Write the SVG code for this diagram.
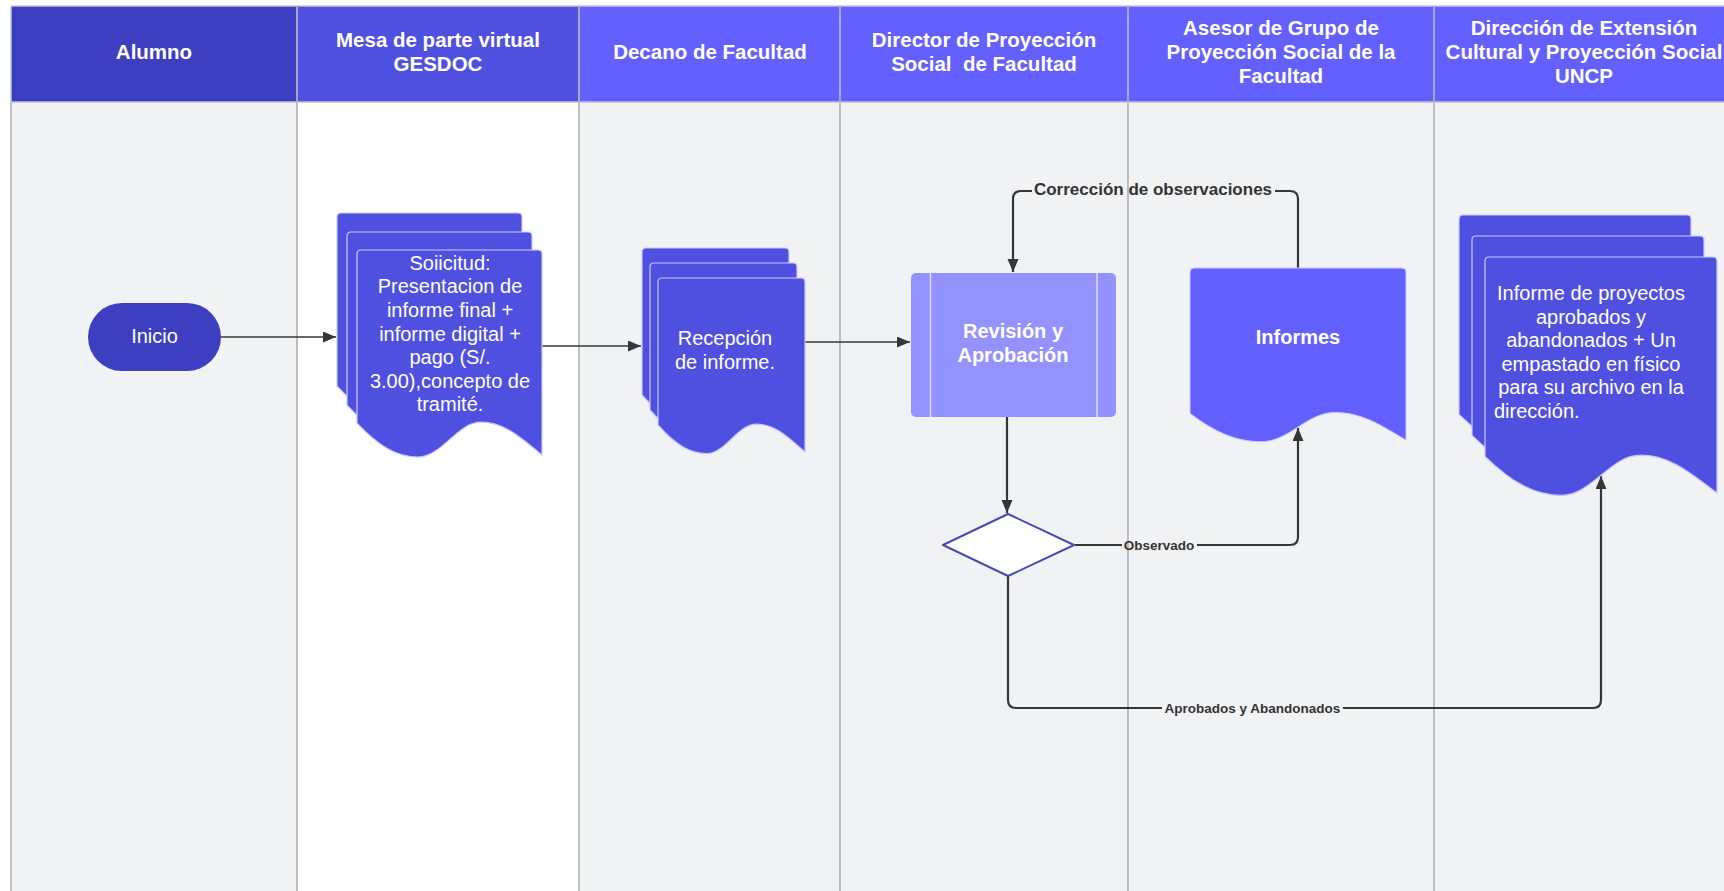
<svg xmlns="http://www.w3.org/2000/svg" xmlns:xlink="http://www.w3.org/1999/xlink" width="1724" height="891" viewBox="0 0 1724 891">
<style>
.hdr{font-family:"Liberation Sans",Arial,sans-serif;font-weight:bold;font-size:20.5px;fill:#ffffff;text-anchor:middle}
.body{font-family:"Liberation Sans",Arial,sans-serif;font-size:20px;fill:#ffffff;text-anchor:middle}
.start{text-anchor:start}
.bold{font-weight:bold}
.lbl{font-family:"Liberation Sans",Arial,sans-serif;font-weight:bold;fill:#333333;text-anchor:middle}
.lane{fill:#f1f2f4}
.sep{stroke:#b9b9bd;stroke-width:1.8}
.hsep{stroke:#a7a7c4;stroke-width:2}
.sheet{fill:#5050e0;stroke:#c9c9ff;stroke-width:1.2}
.conn{fill:none;stroke:#363636;stroke-width:2.2;stroke-linejoin:round}
.thin{stroke-width:1.7}
</style>
<defs>
<marker id="arr" markerUnits="userSpaceOnUse" markerWidth="14" markerHeight="12" refX="13" refY="5.5" orient="auto">
<path d="M0,0 L13,5.5 L0,11 z" fill="#363636"/>
</marker>
<path id="docA" d="M0,4 Q0,0 4,0 H181 Q185,0 185,4 V205 C164.7,188.6 148,172.2 124,172.2 C99.9,172.2 85.1,207 61,207 C40.7,207 22.2,196.8 0,173.2 Z"/>
<path id="docB" d="M0,4 Q0,0 4,0 H143 Q147,0 147,4 V174 C130.8,160.1 117.6,146.2 98.5,146.2 C79.4,146.2 67.6,175.7 48.5,175.7 C32.3,175.7 17.6,167 0,147 Z"/>
<path id="docC" d="M0,4 Q0,0 4,0 H228 Q232,0 232,4 V236 C206.5,217.1 185.6,198.2 155.4,198.2 C125.3,198.2 106.7,238.4 76.6,238.4 C51,238.4 27.8,226.6 0,199.4 Z"/>
<path id="docD" d="M0,4 Q0,0 4,0 H212 Q216,0 216,4 V172 C192.2,158.2 172.8,144.5 144.7,144.5 C116.6,144.5 99.4,173.7 71.3,173.7 C47.5,173.7 25.9,165.1 0,145.3 Z"/>
<mask id="gaps" maskUnits="userSpaceOnUse" x="0" y="0" width="1724" height="891">
<rect x="0" y="0" width="1724" height="891" fill="#ffffff"/>
<rect x="1032" y="180" width="243" height="20" fill="#000000"/>
<rect x="1122" y="536" width="75" height="18" fill="#000000"/>
<rect x="1162" y="699" width="181" height="18" fill="#000000"/>
</mask>
</defs>

<rect x="0" y="0" width="1724" height="891" fill="#ffffff"/>

<g id="lanes">
<rect class="lane" x="11" y="102" width="286" height="789"/>
<rect x="297" y="102" width="282" height="789" fill="#ffffff"/>
<rect class="lane" x="579" y="102" width="261" height="789"/>
<rect class="lane" x="840" y="102" width="288" height="789"/>
<rect class="lane" x="1128" y="102" width="306" height="789"/>
<rect class="lane" x="1434" y="102" width="290" height="789"/>
<line class="sep" x1="11" y1="102" x2="11" y2="891"/>
<line class="sep" x1="297" y1="102" x2="297" y2="891"/>
<line class="sep" x1="579" y1="102" x2="579" y2="891"/>
<line class="sep" x1="840" y1="102" x2="840" y2="891"/>
<line class="sep" x1="1128" y1="102" x2="1128" y2="891"/>
<line class="sep" x1="1434" y1="102" x2="1434" y2="891"/>
</g>

<g id="header">
<rect x="11" y="6" width="286" height="96" fill="#3d3fc0"/>
<rect x="297" y="6" width="282" height="96" fill="#5050e0"/>
<rect x="579" y="6" width="1145" height="96" fill="#6360ff"/>
<line x1="11" y1="6" x2="1724" y2="6" stroke="#c6c6cc" stroke-width="1.5"/>
<line x1="11" y1="6" x2="11" y2="102" stroke="#c6c6cc" stroke-width="1.5"/>
<line x1="11" y1="102" x2="1724" y2="102" stroke="#c0c0c8" stroke-width="1.5"/>
<line class="hsep" x1="297" y1="6" x2="297" y2="102"/>
<line class="hsep" x1="579" y1="6" x2="579" y2="102"/>
<line class="hsep" x1="840" y1="6" x2="840" y2="102"/>
<line class="hsep" x1="1128" y1="6" x2="1128" y2="102"/>
<line class="hsep" x1="1434" y1="6" x2="1434" y2="102"/>
<text class="hdr" x="154" y="59">Alumno</text>
<text class="hdr" x="438" y="47">Mesa de parte virtual</text>
<text class="hdr" x="438" y="70.5">GESDOC</text>
<text class="hdr" x="710" y="59">Decano de Facultad</text>
<text class="hdr" x="984" y="47" xml:space="preserve">Director de Proyección</text>
<text class="hdr" x="984" y="70.5" xml:space="preserve">Social  de Facultad</text>
<text class="hdr" x="1281" y="35">Asesor de Grupo de</text>
<text class="hdr" x="1281" y="59">Proyección Social de la</text>
<text class="hdr" x="1281" y="83">Facultad</text>
<text class="hdr" x="1584" y="35">Dirección de Extensión</text>
<text class="hdr" x="1584" y="59">Cultural y Proyección Social</text>
<text class="hdr" x="1584" y="83">UNCP</text>
</g>

<g id="connectors" mask="url(#gaps)">
<path class="conn thin" d="M221,337 H336" marker-end="url(#arr)"/>
<path class="conn thin" d="M542,346 H641" marker-end="url(#arr)"/>
<path class="conn thin" d="M804,342 H910" marker-end="url(#arr)"/>
<path class="conn" d="M1007,417 V513" marker-end="url(#arr)"/>
<path class="conn" d="M1075,545 H1290 Q1298,545 1298,537 V428" marker-end="url(#arr)"/>
<path class="conn" d="M1298,268 V199 Q1298,191 1290,191 H1021 Q1013,191 1013,199 V272" marker-end="url(#arr)"/>
<path class="conn" d="M1008,576 V700 Q1008,708 1016,708 H1593 Q1601,708 1601,700 V476" marker-end="url(#arr)"/>
</g>

<g id="connector-labels">
<text class="lbl" x="1153" y="195" font-size="17">Corrección de observaciones</text>
<text class="lbl" x="1159" y="549.5" font-size="13.5">Observado</text>
<text class="lbl" x="1252.5" y="712.5" font-size="13.5">Aprobados y Abandonados</text>
</g>

<g id="inicio">
<rect x="88" y="303" width="133" height="68" rx="34" ry="34" fill="#3d3fc0"/>
<text class="body" x="154.5" y="342.5" font-size="23">Inicio</text>
</g>

<g id="solicitud">
<use xlink:href="#docA" href="#docA" x="337" y="213" class="sheet"/>
<use xlink:href="#docA" href="#docA" x="347" y="232" class="sheet"/>
<use xlink:href="#docA" href="#docA" x="357" y="250" class="sheet"/>
<text class="body" x="450" y="269.7">Soiicitud:</text>
<text class="body" x="450" y="293.3">Presentacion de</text>
<text class="body" x="450" y="316.9">informe final +</text>
<text class="body" x="450" y="340.5">informe digital +</text>
<text class="body" x="450" y="364.1">pago (S/.</text>
<text class="body" x="450" y="387.7">3.00),concepto de</text>
<text class="body" x="450" y="411.3">tramité.</text>
</g>

<g id="recepcion">
<use xlink:href="#docB" href="#docB" x="642" y="248" class="sheet"/>
<use xlink:href="#docB" href="#docB" x="650" y="263" class="sheet"/>
<use xlink:href="#docB" href="#docB" x="658" y="278" class="sheet"/>
<text class="body" x="725" y="345">Recepción</text>
<text class="body" x="725" y="369">de informe.</text>
</g>

<g id="revision">
<rect x="911" y="273" width="205" height="144" rx="5" ry="5" fill="#9492ff"/>
<line x1="930.5" y1="273" x2="930.5" y2="417" stroke="#e6e6ff" stroke-width="1.3"/>
<line x1="1097" y1="273" x2="1097" y2="417" stroke="#e6e6ff" stroke-width="1.3"/>
<text class="body bold" x="1013" y="338">Revisión y</text>
<text class="body bold" x="1013" y="361.5">Aprobación</text>
</g>

<g id="decision">
<path d="M943,545 L1008,514 L1074,545 L1008,576 Z" fill="#ffffff" stroke="#4b49ad" stroke-width="2" stroke-linejoin="round"/>
</g>

<g id="informes">
<use xlink:href="#docD" href="#docD" x="1190" y="268" fill="#6360ff" stroke="#c9c9ff" stroke-width="1"/>
<text class="body bold" x="1298" y="344">Informes</text>
</g>

<g id="informe-proyectos">
<use xlink:href="#docC" href="#docC" x="1459" y="215" class="sheet"/>
<use xlink:href="#docC" href="#docC" x="1472" y="236" class="sheet"/>
<use xlink:href="#docC" href="#docC" x="1485" y="257" class="sheet"/>
<text class="body" x="1591" y="300">Informe de proyectos</text>
<text class="body" x="1591" y="323.6">aprobados y</text>
<text class="body" x="1591" y="347.2">abandonados + Un</text>
<text class="body" x="1591" y="370.8">empastado en físico</text>
<text class="body" x="1591" y="394.4">para su archivo en la</text>
<text class="body start" x="1494" y="418">dirección.</text>
</g>
</svg>
